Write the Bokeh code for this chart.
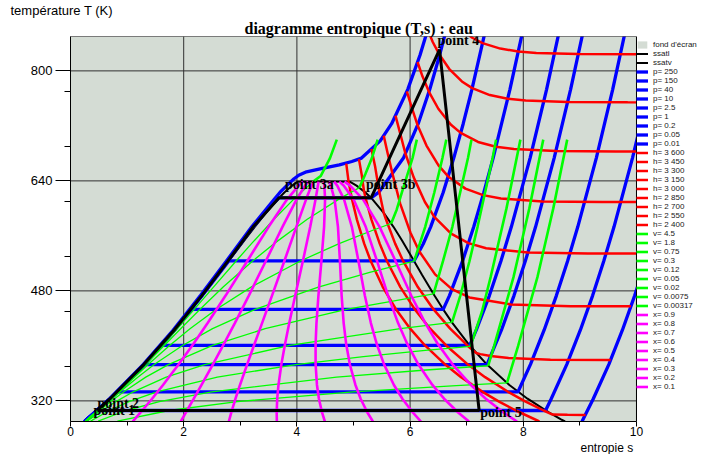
from bokeh.plotting import figure
from bokeh.models import FixedTicker, Legend, LegendItem, Label, Title
from bokeh.embed import file_html
from bokeh.resources import INLINE

# ---------------- axes ----------------
S_MIN, S_MAX = 0, 10
S_VIEW_MAX = 11.131          # extra room on the right of the plot area for the legend
T_MIN, T_MAX = 290, 850
X_MAJOR = [0, 2, 4, 6, 8, 10]
X_MINOR = [1, 3, 5, 7, 9]
Y_MAJOR = [320, 480, 640, 800]
Y_MINOR = [370, 450, 530, 610, 690, 770]

TITLE = "diagramme entropique (T,s) : eau"
Y_LABEL = "température  T  (K)"
X_LABEL = "entropie  s"

# ---------------- saturation curves (s, T) ----------------
SAT_LIQ = [(0.2512, 290.0), (0.2966, 293.15), (0.4368, 303.15), (0.7038, 323.15), (0.9551, 343.15),
           (1.3072, 373.15), (1.6346, 403.15), (1.9426, 433.15), (2.1392, 453.15), (2.3305, 473.15),
           (2.6101, 503.15), (2.7935, 523.15), (3.0685, 553.15), (3.2552, 573.15), (3.4494, 593.15),
           (3.6601, 613.15), (3.7784, 623.15), (3.9167, 633.15), (4.0146, 638.9), (4.4700, 639.0)]
SAT_VAP = [(4.4700, 639.0), (4.9330, 638.9), (5.0536, 633.15), (5.2110, 623.15), (5.3356, 613.15),
           (5.5372, 593.15), (5.7059, 573.15), (5.8579, 553.15), (6.0721, 523.15), (6.2128, 503.15),
           (6.4302, 473.15), (6.5840, 453.15), (6.7491, 433.15), (7.0264, 403.15), (7.3541, 373.15),
           (7.7540, 343.15), (8.0748, 323.15), (8.4520, 303.15), (8.6661, 293.15), (8.7380, 290.0)]

# ---------------- isobars (bar) ----------------
P_LABELS = ["250", "150", "40", "10", "2.5", "1", "0.2", "0.05", "0.01"]
P_250 = [(0.245, 290.0), (0.694, 323.15), (1.288, 373.15), (1.816, 423.15), (2.296, 473.15), (2.752, 523.15),
         (3.203, 573.15), (3.600, 613.15), (3.700, 623.15), (3.820, 633.15), (3.950, 643.15), (4.032, 648.15),
         (4.170, 653.15), (4.450, 658.15), (4.750, 663.15), (4.970, 668.15), (5.142, 673.15), (5.472, 698.15),
         (5.674, 723.15), (5.959, 773.15), (6.176, 823.15), (6.360, 873.15)]
P_150 = [(0.249, 290.0), (0.699, 323.15), (1.298, 373.15), (1.833, 423.15), (2.319, 473.15), (2.780, 523.15),
         (3.227, 573.15), (3.535, 603.15), (3.6848, 615.3), (5.3108, 615.3), (5.4438, 623.15), (5.8819, 673.15),
         (6.1434, 723.15), (6.3480, 773.15), (6.5230, 823.15), (6.6796, 873.15)]
P_40 = [(0.251, 290.0), (0.702, 323.15), (1.305, 373.15), (1.839, 423.15), (2.3275, 473.15), (2.7966, 523.5),
        (6.0696, 523.5), (6.2312, 548.15), (6.3639, 573.15), (6.5843, 623.15), (6.7714, 673.15), (6.9386, 723.15),
        (7.0922, 773.15), (7.3706, 873.15)]
P_10 = [(0.2512, 290.0), (0.7038, 323.15), (1.3072, 373.15), (1.6346, 403.15), (1.9426, 433.15), (2.1381, 453.0),
        (6.5850, 453.0), (6.6956, 473.15), (6.9265, 523.15), (7.1246, 573.15), (7.3029, 623.15), (7.4670, 673.15),
        (7.7642, 773.15), (8.0311, 873.15)]
P_2_5 = [(0.2512, 290.0), (0.4368, 303.15), (0.7038, 323.15), (0.9551, 343.15), (1.3072, 373.15), (1.6072, 400.6),
         (7.0527, 400.6), (7.170, 423.15), (7.401, 473.15), (7.604, 523.15), (7.789, 573.15), (8.120, 673.15),
         (8.412, 773.15), (8.676, 873.15)]
P_1 = [(0.2512, 290.0), (0.4368, 303.15), (0.7038, 323.15), (0.9551, 343.15), (1.3028, 372.8), (7.3589, 372.8),
       (7.6148, 423.15), (7.8356, 473.15), (8.0346, 523.15), (8.2172, 573.15), (8.5452, 673.15), (8.8362, 773.15),
       (9.0999, 873.15)]
P_0_2 = [(0.2512, 290.0), (0.4368, 303.15), (0.7038, 323.15), (0.8320, 333.2), (7.9073, 333.2), (8.127, 373.15),
         (8.369, 423.15), (8.585, 473.15), (8.782, 523.15), (8.963, 573.15), (9.290, 673.15), (9.580, 773.15),
         (9.843, 873.15)]
P_0_05 = [(0.2512, 290.0), (0.4762, 306.0), (8.3938, 306.0), (8.494, 323.15), (8.769, 373.15), (9.009, 423.15),
          (9.225, 473.15), (9.421, 523.15), (9.603, 573.15), (9.929, 673.15), (10.220, 773.15)]
P_0_01 = [(9.037, 290.0), (9.237, 323.15), (9.512, 373.15), (9.752, 423.15), (9.968, 473.15), (10.164, 523.15)]

# ---------------- isenthalps (kJ/kg) ----------------
H_LABELS = ["3 600", "3 450", "3 300", "3 150", "3 000", "2 850", "2 700", "2 550", "2 400"]
H_3600 = [(6.700, 879.0), (6.8741, 862.7), (7.0978, 848.2), (7.2795, 840.4), (7.5939, 832.4), (7.9112, 828.2),
          (8.2297, 826.1), (8.9715, 824.5), (10.034, 824.1)]
H_3450 = [(6.3114, 859.9), (6.4003, 842.0), (6.5225, 823.0), (6.6933, 802.7), (6.9153, 784.6), (7.0971, 774.9),
          (7.4084, 764.8), (7.7239, 759.6), (8.0415, 756.9), (8.7826, 754.7), (9.8448, 754.2), (10.907, 754.1)]
H_3300 = [(6.1318, 812.9), (6.2184, 792.1), (6.3336, 769.6), (6.4990, 744.9), (6.7177, 722.0), (6.8939, 709.8),
          (7.2006, 696.6), (7.5162, 689.7), (7.8338, 686.2), (8.5749, 683.4), (9.6371, 682.7), (10.700, 682.6)]
H_3150 = [(5.9426, 770.2), (6.0253, 747.7), (6.1321, 721.0), (6.2894, 691.3), (6.5019, 662.6), (6.6718, 646.5),
          (6.9773, 628.7), (7.2892, 619.3), (7.6043, 614.4), (8.3385, 610.1), (9.4005, 609.2), (10.463, 609.1)]
H_3000 = [(5.7417, 735.0), (5.8202, 710.5), (5.9168, 679.8), (6.0634, 645.1), (6.2621, 609.3), (6.4280, 587.7),
          (6.7242, 563.2), (7.0304, 549.4), (7.3435, 542.0), (8.0812, 535.9), (9.1427, 534.5), (10.205, 534.4)]
H_2850 = [(5.5338, 705.8), (5.6044, 679.7), (5.6870, 650.9), (5.8247, 606.9), (6.0068, 564.6), (6.1610, 537.6),
          (6.4417, 504.0), (6.7392, 482.6), (7.0480, 470.5), (7.7786, 460.3), (8.8388, 457.8), (9.9015, 457.6)]
H_2700 = [(5.317, 686.4), (5.382, 661.0), (5.455, 624.4), (5.535, 593.2), (5.573, 584.1), (5.736, 548.7),
          (5.877, 523.5), (6.137, 485.5), (6.415, 453.0), (6.708, 425.0), (7.011, 400.6), (7.111, 393.4),
          (7.168, 389.6), (7.241, 388.0), (7.422, 385.2), (7.740, 382.2), (8.480, 379.7), (9.543, 379.3)]
H_2550 = [(5.096, 671.6), (5.147, 648.0), (5.185, 625.5), (5.212, 615.3), (5.316, 584.1), (5.463, 548.7),
          (5.590, 523.5), (5.828, 485.5), (6.084, 453.0), (6.354, 425.0), (6.637, 400.6), (7.023, 372.8),
          (7.325, 354.5), (7.730, 333.2), (8.042, 319.0), (8.359, 306.0), (8.517, 300.1), (8.780, 299.7),
          (9.100, 299.5)]
H_2400 = [(4.872, 665.0), (4.913, 638.9), (4.968, 615.3), (5.059, 584.1), (5.189, 548.7), (5.304, 523.5),
          (5.518, 485.5), (5.753, 453.0), (6.002, 425.0), (6.263, 400.6), (6.621, 372.8), (6.901, 354.5),
          (7.280, 333.2), (7.572, 319.0), (7.869, 306.0), (8.284, 290.0)]

# ---------------- isochores (m3/kg): wet part and vapour part ----------------
V_LABELS = ["4.5", "1.8", "0.75", "0.3", "0.12", "0.05", "0.02", "0.0075", "0.00317"]
V_4_5_WET = [(0.829, 290.6), (1.740, 306.0), (2.949, 319.0), (4.994, 333.2), (6.816, 342.2), (7.712, 346.1)]
V_4_5_VAP = [(7.712, 346.1), (7.909, 400.0), (8.250, 500.0), (8.530, 600.0), (8.776, 700.0)]
V_1_8_WET = [(0.488, 290.6), (0.982, 306.0), (1.569, 319.0), (2.497, 333.2), (4.702, 354.5), (6.280, 364.9),
             (7.380, 371.1)]
V_1_8_VAP = [(7.380, 371.1), (7.485, 400.0), (7.827, 500.0), (8.107, 600.0), (8.353, 700.0)]
V_0_75_WET = [(0.355, 290.6), (0.687, 306.0), (1.033, 319.0), (1.525, 333.2), (2.594, 354.5), (3.982, 372.8),
              (5.175, 384.5), (6.269, 393.4), (7.067, 399.2)]
V_0_75_VAP = [(7.067, 399.2), (7.270, 450.0), (7.423, 500.0), (7.703, 600.0), (7.949, 700.0)]
V_0_3_WET = [(0.299, 290.6), (0.560, 306.0), (0.803, 319.0), (1.109, 333.2), (1.691, 354.5), (2.372, 372.8),
             (3.876, 400.6), (5.828, 425.0), (6.741, 434.2)]
V_0_3_VAP = [(6.741, 434.2), (6.888, 473.15), (7.049, 523.15), (7.192, 573.15), (7.458, 673.15), (7.519, 700.0)]
V_0_12_WET = [(0.276, 290.6), (0.510, 306.0), (0.711, 319.0), (0.943, 333.2), (1.330, 354.5), (1.729, 372.8),
              (2.510, 400.6), (3.439, 425.0), (4.873, 453.0), (6.415, 475.5)]
V_0_12_VAP = [(6.415, 475.5), (6.581, 523.15), (6.747, 573.15), (7.023, 673.15), (7.085, 700.0)]
V_0_05_WET = [(0.267, 290.6), (0.490, 306.0), (0.674, 319.0), (0.877, 333.2), (1.189, 354.5), (1.478, 372.8),
              (1.979, 400.6), (2.510, 425.0), (3.262, 453.0), (4.378, 485.5), (5.286, 507.0), (6.072, 523.3)]
V_0_05_VAP = [(6.072, 523.3), (6.267, 573.15), (6.428, 623.15), (6.571, 673.15), (6.640, 700.0)]
V_0_02_WET = [(0.263, 290.6), (0.482, 306.0), (0.659, 319.0), (0.850, 333.2), (1.129, 354.5), (1.371, 372.8),
              (1.751, 400.6), (2.111, 425.0), (2.572, 453.0), (3.191, 485.5), (4.061, 523.5), (4.746, 548.7),
              (5.341, 568.2), (5.666, 578.0)]
V_0_02_VAP = [(5.666, 578.0), (5.763, 598.15), (5.855, 623.15), (6.043, 673.15), (6.119, 700.0)]
V_0_0075_WET = [(0.262, 290.6), (0.478, 306.0), (0.653, 319.0), (0.838, 333.2), (1.104, 354.5), (1.326, 372.8),
                (1.656, 400.6), (1.946, 425.0), (2.285, 453.0), (2.697, 485.5), (3.218, 523.5), (3.596, 548.7),
                (4.183, 584.1), (4.779, 615.3), (5.105, 630.2)]
V_0_0075_VAP = [(5.105, 630.2), (5.210, 650.0), (5.325, 673.15), (5.427, 700.0)]
V_0_00317_WET = [(0.261, 290.6), (0.477, 306.0), (0.650, 319.0), (0.834, 333.2), (1.096, 354.5), (1.310, 372.8),
                 (1.623, 400.6), (1.888, 425.0), (2.185, 453.0), (2.526, 485.5), (2.926, 523.5), (3.198, 548.7),
                 (3.594, 584.1), (3.968, 615.3), (4.288, 638.9)]
V_0_00317_VAP = [(4.288, 638.9), (4.420, 647.0), (4.585, 673.15), (4.705, 700.0)]

# ---------------- vapour quality lines ----------------
X_LABELS = ["0.9", "0.8", "0.7", "0.6", "0.5", "0.4", "0.3", "0.2", "0.1"]
Q_T = [290.0, 303.15, 323.15, 343.15, 373.15, 403.15, 433.15, 473.15, 523.15, 573.15, 613.15, 633.15, 638.9]
Q_0_9 = [7.8893, 7.6505, 7.3377, 7.0741, 6.7494, 6.4872, 6.2685, 6.0202, 5.7442, 5.4608, 5.1681, 4.9399, 4.8412]
Q_0_8 = [7.0406, 6.8490, 6.6006, 6.3942, 6.1447, 5.9480, 5.7878, 5.6103, 5.4164, 5.2158, 5.0005, 4.8262, 4.7493]
Q_0_7 = [6.1920, 6.0474, 5.8635, 5.7143, 5.5400, 5.4089, 5.3072, 5.2003, 5.0885, 4.9707, 4.8330, 4.7125, 4.6575]
Q_0_6 = [5.3433, 5.2459, 5.1264, 5.0344, 4.9353, 4.8697, 4.8265, 4.7903, 4.7607, 4.7256, 4.6654, 4.5988, 4.5656]
Q_0_5 = [4.4946, 4.4444, 4.3893, 4.3546, 4.3307, 4.3305, 4.3459, 4.3804, 4.4328, 4.4806, 4.4979, 4.4852, 4.4738]
Q_0_4 = [3.6459, 3.6429, 3.6522, 3.6747, 3.7260, 3.7913, 3.8652, 3.9704, 4.1049, 4.2355, 4.3303, 4.3715, 4.3820]
Q_0_3 = [2.7972, 2.8414, 2.9151, 2.9948, 3.1213, 3.2521, 3.3846, 3.5604, 3.7771, 3.9904, 4.1628, 4.2578, 4.2901]
Q_0_2 = [1.9486, 2.0398, 2.1780, 2.3149, 2.5166, 2.7130, 2.9039, 3.1504, 3.4492, 3.7453, 3.9952, 4.1441, 4.1983]
Q_0_1 = [1.0999, 1.2383, 1.4409, 1.6350, 1.9119, 2.1738, 2.4233, 2.7405, 3.1214, 3.5003, 3.8277, 4.0304, 4.1064]

# ---------------- Rankine cycle ----------------
CYCLE = [(0.4762, 306.0), (0.4762, 306.4), (0.699, 323.15), (1.298, 373.15), (1.833, 423.15), (2.319, 473.15),
         (2.780, 523.15), (3.227, 573.15), (3.6848, 615.3), (5.3108, 615.3), (6.52, 831.0), (7.22, 306.0),
         (0.4762, 306.0)]
POINT_NAMES = ["point 1", "point 2", "point 3a", "point 3b", "point 4", "point 5"]
POINT_S = [0.4762, 0.4762, 3.6848, 5.3108, 6.52, 7.22]
POINT_T = [306.0, 306.4, 615.3, 615.3, 831.0, 306.0]

BG = "#d4dcd4"
BLUE, RED, GREEN, MAGENTA = "#0000ff", "#ff0000", "#00ff00", "#ff00ff"


def cols(pairs):
    return [a for a, _ in pairs], [b for _, b in pairs]


p = figure(width=700, height=454, x_range=(S_MIN, S_VIEW_MAX), y_range=(T_MIN, T_MAX),
           output_backend="svg", toolbar_location=None, title=None,
           min_border_left=70, min_border_right=0, min_border_top=36, min_border_bottom=33)
p.background_fill_color = "white"
p.border_fill_color = "white"
p.outline_line_color = None

p.xaxis.ticker = FixedTicker(ticks=X_MAJOR, minor_ticks=X_MINOR)
p.yaxis.ticker = FixedTicker(ticks=Y_MAJOR, minor_ticks=Y_MINOR)
p.xaxis.bounds = (S_MIN, S_MAX)
for ax in (p.xaxis[0], p.yaxis[0]):
    ax.axis_line_color = "black"
    ax.major_tick_line_color = "black"
    ax.minor_tick_line_color = "black"
    ax.major_tick_in = 0
    ax.minor_tick_in = 0
    ax.major_label_text_font = "Liberation Sans"
    ax.major_label_text_color = "black"
p.xaxis.major_label_text_font_size = "12px"
p.yaxis.major_label_text_font_size = "13px"
p.xaxis.major_tick_out = 5
p.xaxis.minor_tick_out = 4
p.xaxis.major_label_standoff = 0
p.yaxis.major_tick_out = 15
p.yaxis.minor_tick_out = 6
p.yaxis.major_label_standoff = 3
p.xgrid.grid_line_color = "#303030"
p.ygrid.visible = False

# plot area background ("fond d'écran") and horizontal grid limited to the plot area
items = []
bg_r = p.quad(left=[S_MIN], right=[S_MAX], bottom=[T_MIN], top=[T_MAX], fill_color=BG, line_color=None)
items.append(LegendItem(label="fond d'écran", renderers=[bg_r]))
p.segment(x0=[S_MIN] * len(Y_MAJOR), x1=[S_MAX] * len(Y_MAJOR), y0=Y_MAJOR, y1=Y_MAJOR,
          line_color="#303030", line_width=1)
p.segment(x0=X_MAJOR, x1=X_MAJOR, y0=[T_MIN] * len(X_MAJOR), y1=[T_MAX] * len(X_MAJOR),
          line_color="#303030", line_width=1)
p.xgrid.visible = False

xs, ys = cols(SAT_LIQ)
r = p.line(xs, ys, line_color="black", line_width=2)
items.append(LegendItem(label="ssatl", renderers=[r]))
xs, ys = cols(SAT_VAP)
r = p.line(xs, ys, line_color="black", line_width=2)
items.append(LegendItem(label="ssatv", renderers=[r]))

for lbl, data in zip(P_LABELS, [P_250, P_150, P_40, P_10, P_2_5, P_1, P_0_2, P_0_05, P_0_01]):
    xs, ys = cols(data)
    r = p.line(xs, ys, line_color=BLUE, line_width=3.3)
    items.append(LegendItem(label="p= " + lbl, renderers=[r]))

for lbl, data in zip(H_LABELS, [H_3600, H_3450, H_3300, H_3150, H_3000, H_2850, H_2700, H_2550, H_2400]):
    xs, ys = cols(data)
    r = p.line(xs, ys, line_color=RED, line_width=2.5)
    items.append(LegendItem(label="h= " + lbl, renderers=[r]))

V_WET = [V_4_5_WET, V_1_8_WET, V_0_75_WET, V_0_3_WET, V_0_12_WET, V_0_05_WET, V_0_02_WET, V_0_0075_WET, V_0_00317_WET]
V_VAP = [V_4_5_VAP, V_1_8_VAP, V_0_75_VAP, V_0_3_VAP, V_0_12_VAP, V_0_05_VAP, V_0_02_VAP, V_0_0075_VAP, V_0_00317_VAP]
for lbl, wet, vap in zip(V_LABELS, V_WET, V_VAP):
    xs, ys = cols(wet)
    p.line(xs, ys, line_color=GREEN, line_width=1.3)
    xs, ys = cols(vap)
    r = p.line(xs, ys, line_color=GREEN, line_width=2.6)
    items.append(LegendItem(label="v= " + lbl, renderers=[r]))

for lbl, qs in zip(X_LABELS, [Q_0_9, Q_0_8, Q_0_7, Q_0_6, Q_0_5, Q_0_4, Q_0_3, Q_0_2, Q_0_1]):
    r = p.line(qs, Q_T, line_color=MAGENTA, line_width=2.6)
    items.append(LegendItem(label="x= " + lbl, renderers=[r]))

xs, ys = cols(CYCLE)
p.line(xs, ys, line_color="black", line_width=3)

# white band right of the plot area (holds the legend), then the plot-area border
p.quad(left=[S_MAX], right=[S_VIEW_MAX + 1], bottom=[T_MIN - 50], top=[T_MAX + 50],
       fill_color="white", line_color=None)
p.quad(left=[S_MIN], right=[S_MAX], bottom=[T_MIN], top=[T_MAX], fill_alpha=0,
       line_color="black", line_width=1)

legend = Legend(items=items, location=(566, 30), orientation="vertical",
                label_text_font="Liberation Sans", label_text_font_size="8px", label_text_color="#202020",
                label_height=9, glyph_height=9, glyph_width=12, spacing=0, padding=0, margin=0,
                label_standoff=5, border_line_alpha=0, background_fill_alpha=0)
p.add_layout(legend)

offsets = [(-4, 0), (0, 7), (6, 13), (-5, 13), (-2, 9), (1, -2)]
for name, s, t, (dx, dy) in zip(POINT_NAMES, POINT_S, POINT_T, offsets):
    p.add_layout(Label(x=s, y=t, text=name, x_offset=dx, y_offset=dy, text_font="Liberation Serif",
                       text_font_style="bold", text_font_size="14px", text_color="black",
                       text_align="left", text_baseline="middle"))

# titles around the plot area
p.add_layout(Title(text=TITLE, align="left", offset=174, standoff=0, text_font="Liberation Serif",
                   text_font_style="bold", text_font_size="16px", text_color="black"), "above")
p.add_layout(Title(text=Y_LABEL, align="left", offset=-60, standoff=0, text_font="Liberation Sans",
                   text_font_style="normal", text_font_size="13px", text_color="black"), "above")
p.add_layout(Title(text=X_LABEL, align="left", offset=510, standoff=0, text_font="Liberation Sans",
                   text_font_style="normal", text_font_size="12px", text_color="black"), "below")

open("out.html", "w").write(file_html(p, INLINE))
